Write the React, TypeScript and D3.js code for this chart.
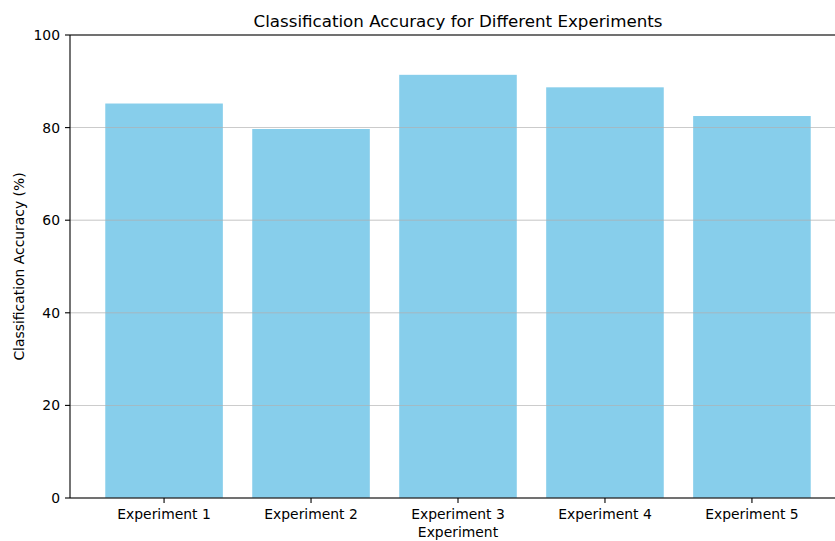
import React from "react";
import * as d3 from "d3";

const categories = ["Experiment 1", "Experiment 2", "Experiment 3", "Experiment 4", "Experiment 5"];
const accuracies = [85.2, 79.7, 91.4, 88.7, 82.5];
const yTicks = [0, 20, 40, 60, 80, 100];

const W = 835;
const H = 541;
const FONT = "'DejaVu Sans', sans-serif";

export default function App() {
  const left = 70, right = 846, top = 35, bottom = 498;
  const x = d3.scaleLinear().domain([-0.64, categories.length - 1 + 0.64]).range([left, right]);
  const y = d3.scaleLinear().domain([0, 100]).range([bottom, top]);
  const bw = x(0.8) - x(0);

  return (
    <svg width={W} height={H} style={{ position: "absolute", left: 0, top: 0, background: "#fff" }}>
      <rect x={0} y={0} width={W} height={H} fill="#fff" />
      {accuracies.map((v, i) => (
        <rect key={i} x={x(i) - bw / 2} y={y(v)} width={bw} height={y(0) - y(v)} fill="#87CEEB" />
      ))}
      {yTicks.map((t) => (
        <line key={"g" + t} x1={left} x2={right} y1={y(t)} y2={y(t)} stroke="#b0b0b0" strokeWidth={0.8} opacity={0.9} />
      ))}
      {/* spines */}
      <line x1={left} x2={left} y1={top} y2={bottom} stroke="#000" strokeWidth={1.1} />
      <line x1={left} x2={right} y1={bottom} y2={bottom} stroke="#000" strokeWidth={1.1} />
      <line x1={left} x2={right} y1={top} y2={top} stroke="#000" strokeWidth={1.1} />
      {yTicks.map((t) => (
        <g key={"t" + t}>
          <line x1={left - 5} x2={left} y1={y(t)} y2={y(t)} stroke="#000" strokeWidth={1.1} />
          <text x={left - 10} y={y(t)} dy="0.36em" textAnchor="end" fontFamily={FONT} fontSize={13.9} fill="#000">
            {t}
          </text>
        </g>
      ))}
      {categories.map((c, i) => (
        <g key={c}>
          <line x1={x(i)} x2={x(i)} y1={bottom} y2={bottom + 5} stroke="#000" strokeWidth={1.1} />
          <text x={x(i)} y={518.5} textAnchor="middle" fontFamily={FONT} fontSize={13.9} fill="#000">
            {c}
          </text>
        </g>
      ))}
      <text x={(left + right) / 2} y={537} textAnchor="middle" fontFamily={FONT} fontSize={13.9} fill="#000">
        Experiment
      </text>
      <text
        transform={`translate(24, ${(top + bottom) / 2}) rotate(-90)`}
        textAnchor="middle"
        fontFamily={FONT}
        fontSize={13.9}
        fill="#000"
      >
        Classification Accuracy (%)
      </text>
      <text x={(left + right) / 2} y={27} textAnchor="middle" fontFamily={FONT} fontSize={16.7} fill="#000">
        Classification Accuracy for Different Experiments
      </text>
    </svg>
  );
}
